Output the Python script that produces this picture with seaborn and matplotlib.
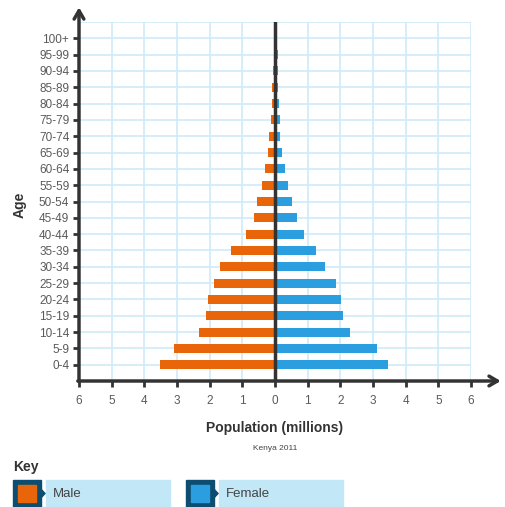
import numpy as np
import pandas as pd
import seaborn as sns
import matplotlib.pyplot as plt
from matplotlib.patches import Rectangle, Polygon

ages = ['0-4', '5-9', '10-14', '15-19', '20-24', '25-29', '30-34', '35-39', '40-44',
        '45-49', '50-54', '55-59', '60-64', '65-69', '70-74', '75-79', '80-84', '85-89',
        '90-94', '95-99', '100+']
male = [3.53, 3.09, 2.32, 2.10, 2.04, 1.87, 1.67, 1.34, 0.89, 0.64, 0.54, 0.41,
        0.30, 0.22, 0.18, 0.11, 0.09, 0.08, 0.07, 0.0, 0.0]
female = [3.46, 3.13, 2.30, 2.08, 2.01, 1.86, 1.52, 1.27, 0.89, 0.66, 0.52, 0.40,
          0.30, 0.22, 0.16, 0.14, 0.12, 0.10, 0.09, 0.08, 0.0]
x_ticks = [-6, -5, -4, -3, -2, -1, 0, 1, 2, 3, 4, 5, 6]

orange = '#e8650a'
blue = '#2b9ee0'
grid_col = '#cfeaf8'
dark = '#333333'
navy = '#0d4d70'
light = '#c2e7f6'

df = pd.concat([
    pd.DataFrame({'Age': ages, 'Sex': 'Male', 'Population': [-v for v in male]}),
    pd.DataFrame({'Age': ages, 'Sex': 'Female', 'Population': female}),
])

plt.rcParams['font.family'] = ['Liberation Sans', 'DejaVu Sans']
fig = plt.figure(figsize=(5.05, 5.07), dpi=100)
ax = fig.add_axes([79 / 505, 126 / 507, 392 / 505, 359 / 507])

order = ages[::-1]
sns.barplot(data=df, x='Population', y='Age', hue='Sex', order=order, dodge=False,
            palette={'Male': orange, 'Female': blue}, width=0.55, orient='h',
            legend=False, ax=ax, zorder=3, saturation=1)

ax.set_xlim(-6, 6)
ax.set_ylim(21, -1)
ax.set_xticks(x_ticks)
ax.set_xticklabels([str(abs(t)) for t in x_ticks])
ax.set_yticks(range(len(order)))
ax.set_yticklabels(order)

ax.grid(True, color=grid_col, lw=1.2, zorder=0)
ax.axhline(-1, color=grid_col, lw=1.2, zorder=0)
ax.axvline(0, color=dark, lw=2.5, zorder=4)
for s in ax.spines.values():
    s.set_visible(False)

ax.tick_params(axis='y', length=4, width=2, color=dark, pad=3, labelsize=8.5, labelcolor='#5a5a5a')
ax.tick_params(axis='x', length=4, width=2, color=dark, pad=6, labelsize=8.5, labelcolor='#5a5a5a')

arrow = dict(arrowstyle='->,head_length=0.6,head_width=0.35', lw=2.5, color=dark,
             shrinkA=0, shrinkB=0)
ax.annotate('', xy=(0, 1.041), xytext=(0, -0.002), xycoords='axes fraction',
            arrowprops=arrow, annotation_clip=False)
ax.annotate('', xy=(1.076, 0), xytext=(-0.003, 0), xycoords='axes fraction',
            arrowprops=arrow, annotation_clip=False)

ax.set_xlabel('Population (millions)', fontsize=10, fontweight='bold', color='#333333', labelpad=10)
ax.set_ylabel('')
fig.text(20 / 505, 1 - 205 / 507, 'Age', rotation=90, fontsize=10, fontweight='bold',
         color='#333333', ha='center', va='center')
fig.text(275 / 505, 1 - 449 / 507, 'Kenya 2011', fontsize=6, color='#444444',
         ha='center', va='center')

# key
fig.text(13 / 505, 1 - 467 / 507, 'Key', fontsize=10, fontweight='bold', color='#333333',
         ha='left', va='center')


def px(x, y):
    return (x / 505, 1 - y / 507)


for x0, col, lab in [(13, orange, 'Male'), (186, blue, 'Female')]:
    fig.patches.append(Rectangle(px(x0 + 33, 506), 124 / 505, 26 / 507,
                                 transform=fig.transFigure, color=light))
    fig.patches.append(Rectangle(px(x0, 507), 28 / 505, 27 / 507,
                                 transform=fig.transFigure, color=navy))
    fig.patches.append(Polygon([px(x0 + 27, 488), px(x0 + 32, 493.5), px(x0 + 27, 499)],
                               transform=fig.transFigure, color=navy))
    fig.patches.append(Rectangle(px(x0 + 4.5, 502), 18.5 / 505, 17 / 507,
                                 transform=fig.transFigure, color=col))
    fig.text((x0 + 40) / 505, 1 - 494 / 507, lab, fontsize=9.5, color='#444444',
             ha='left', va='center')

fig.savefig('out.png', dpi=100)
